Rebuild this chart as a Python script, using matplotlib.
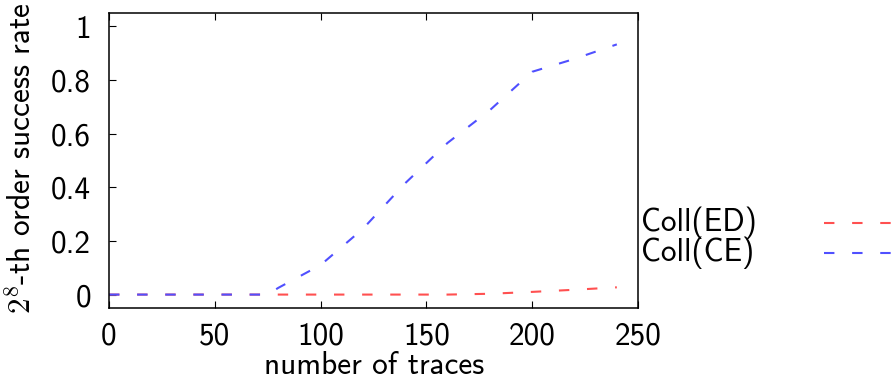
import matplotlib
matplotlib.use("Agg")
import matplotlib.pyplot as plt
from matplotlib.lines import Line2D

plt.rcParams['font.family'] = ['cmss10', 'DejaVu Sans']
plt.rcParams['mathtext.fontset'] = 'cm'
plt.rcParams['axes.unicode_minus'] = False

traces = [0, 25, 50, 75, 80, 100, 120, 140, 160, 180, 200, 220, 240]
coll_ed = [0, 0, 0, 0, 0, 0, 0, 0, 0, 0.003, 0.01, 0.018, 0.027]
coll_ce = [0, 0, 0, 0, 0.025, 0.11, 0.245, 0.415, 0.565, 0.687, 0.83, 0.878, 0.932]
labels = ["Coll(ED)", "Coll(CE)"]
colors = ["#ff5050", "#5050ff"]

xticks = [0, 50, 100, 150, 200, 250]
yticks = [0, 0.2, 0.4, 0.6, 0.8, 1]
ytick_labels = ["0", "0.2", "0.4", "0.6", "0.8", "1"]

W, H = 893, 379
fig = plt.figure(figsize=(W / 100, H / 100), dpi=100)
ax = fig.add_axes([109 / W, 1 - 308 / H, (638 - 109) / W, (308 - 12.7) / H])

fs = 22.5
dash = (0, (5, 8.5))
for y, c in zip([coll_ed, coll_ce], colors):
    ax.plot(traces, y, color=c, lw=1.5, linestyle=dash)

ax.set_xlim(0, 250)
ax.set_ylim(-0.05, 1.05)
ax.set_xticks(xticks)
ax.set_xticklabels([str(t) for t in xticks], fontsize=fs)
ax.set_yticks(yticks)
ax.set_yticklabels(ytick_labels, fontsize=fs)
ax.tick_params(direction='in', length=5, width=0.8, top=True, right=False)
ax.tick_params(axis='x', pad=10)
ax.tick_params(axis='y', pad=13)
for s in ax.spines.values():
    s.set_linewidth(1.1)

fig.text(374 / W, 1 - 365.5 / H, "number of traces", fontsize=fs, ha='center', va='center')
fig.text(22 / W, 1 - 158 / H, r"$2^8$-th order success rate", fontsize=fs,
         ha='center', va='center', rotation=90)

# legend (gnuplot style: text left, sample right)
for i, (lab, c) in enumerate(zip(labels, colors)):
    yp = 1 - (223 + 29.5 * i) / H
    fig.text(641 / W, yp, lab, fontsize=fs, ha='left', va='center')
    fig.add_artist(Line2D([824 / W, 1.0], [yp, yp], transform=fig.transFigure,
                          color=c, lw=1.5, linestyle=dash))

fig.savefig("out.png", dpi=100)
